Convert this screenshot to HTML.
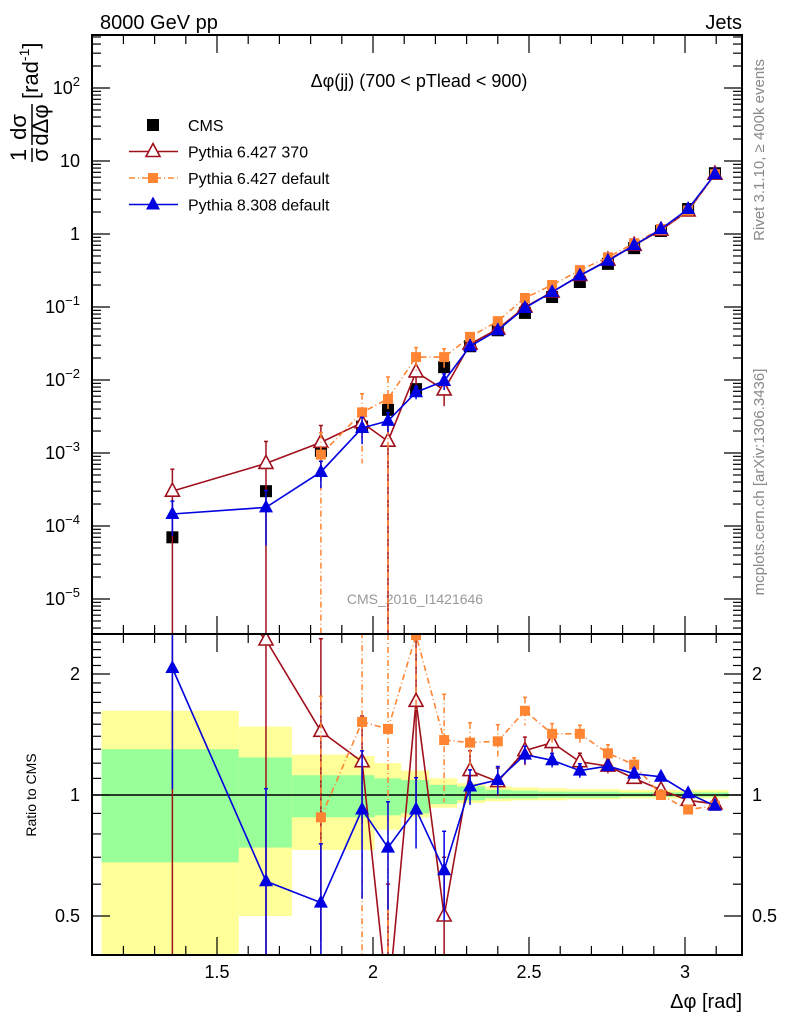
<!DOCTYPE html>
<html><head><meta charset="utf-8"><style>
html,body{margin:0;background:#fff;width:786px;height:1024px;overflow:hidden;}
svg{display:block;font-family:"Liberation Sans",sans-serif;}
</style></head><body>
<svg id="c" width="786" height="1024" viewBox="0 0 786 1024">
<text x="100" y="29" font-size="20">8000 GeV pp</text>
<text x="742" y="29" font-size="20" text-anchor="end">Jets</text>
<text x="419" y="87" font-size="18" text-anchor="middle">Δφ(jj) (700 &lt; pTlead &lt;  900)</text>
<text x="415" y="604" font-size="14" fill="#999" text-anchor="middle">CMS_2016_I1421646</text>
<text transform="translate(764,150) rotate(-90)" font-size="15" fill="#888" text-anchor="middle">Rivet 3.1.10, ≥ 400k events</text>
<text transform="translate(764,482) rotate(-90)" font-size="15" fill="#888" text-anchor="middle">mcplots.cern.ch [arXiv:1306.3436]</text>
<g transform="translate(33,150) rotate(-90)">
<text x="-5" y="-7" font-size="22" text-anchor="middle">1</text>
<text x="-5" y="15" font-size="22" text-anchor="middle">σ</text>
<line x1="-12" y1="-1" x2="2" y2="-1" stroke="#000" stroke-width="1.5"/>
<text x="23" y="-7" font-size="22" text-anchor="middle">dσ</text>
<text x="25" y="15" font-size="22" text-anchor="middle">dΔφ</text>
<line x1="5" y1="-1" x2="46" y2="-1" stroke="#000" stroke-width="1.5"/>
<text x="51" y="5" font-size="22">[rad<tspan font-size="14" dy="-9">-1</tspan><tspan dy="9">]</tspan></text>
</g>
<text transform="translate(36,795) rotate(-90)" font-size="14" text-anchor="middle">Ratio to CMS</text>
<text x="742" y="1008" font-size="20" text-anchor="end">Δφ [rad]</text>
<g id="bands"></g><g id="marks"></g><g id="axes"></g><g id="legend"></g>
</svg>
<script>
const xs=[1.357,1.657,1.833,1.965,2.048,2.138,2.228,2.311,2.40,2.487,2.574,2.663,2.753,2.837,2.923,3.01,3.096];
const cms=[7e-5,3e-4,1.07e-3,2.3e-3,3.9e-3,7.5e-3,0.015,0.029,0.048,0.083,0.137,0.22,0.39,0.64,1.1,2.2,6.8];
const py6370=[3e-4,7.2e-4,1.4e-3,2.6e-3,1.45e-3,0.0129,7.3e-3,0.031,0.05,0.1,0.16,0.27,0.44,0.7,1.13,2.07,6.6];
const py6def=[null,null,9.5e-4,3.6e-3,5.5e-3,0.0206,0.0206,0.039,0.064,0.133,0.2,0.32,0.48,0.75,1.17,2.1,6.6];
const py8=[1.46e-4,1.8e-4,5.5e-4,2.2e-3,2.75e-3,6.8e-3,9.7e-3,0.029,0.048,0.097,0.16,0.27,0.43,0.7,1.17,2.2,6.6];
const r6370=[4.3,2.43,1.44,1.21,0.3,1.71,0.5,1.15,1.08,1.29,1.35,1.21,1.18,1.1,1.03,0.97,0.95];
const r6def=[null,null,0.88,1.52,1.46,2.5,1.37,1.35,1.36,1.62,1.42,1.42,1.27,1.19,1.0,0.92,0.94];
const r8=[2.07,0.61,0.54,0.92,0.74,0.92,0.65,1.05,1.09,1.26,1.22,1.15,1.18,1.13,1.11,1.01,0.94];
const e6370=[1,1,0.7,0.3,1,0.45,0.4,0.12,0.08,0.08,0.06,0.05,0.04,0.03,0.03,0.02,0.02];
const e6def=[0,0,1,0.8,1,0.35,0.3,0.12,0.1,0.08,0.06,0.05,0.05,0.04,0.03,0.02,0.02];
const e8=[0.5,0.7,0.4,0.4,0.3,0.2,0.25,0.1,0.08,0.05,0.04,0.04,0.03,0.03,0.02,0.02,0.02];
const binEdges=[1.13,1.57,1.74,1.92,2.005,2.09,2.18,2.27,2.36,2.445,2.53,2.62,2.71,2.79,2.88,2.97,3.05,3.14];
const yelHi=[1.62,1.48,1.26,1.25,1.2,1.15,1.1,1.07,1.05,1.045,1.04,1.035,1.035,1.03,1.03,1.03,1.03];
const yelLo=[0.3,0.5,0.73,0.73,0.82,0.88,0.93,0.955,0.965,0.97,0.97,0.975,0.975,0.98,0.98,0.98,0.98];
const grHi=[1.3,1.24,1.12,1.12,1.1,1.09,1.06,1.05,1.03,1.025,1.02,1.02,1.02,1.015,1.015,1.015,1.015];
const grLo=[0.68,0.74,0.88,0.88,0.89,0.9,0.95,0.97,0.98,0.98,0.985,0.985,0.985,0.99,0.99,0.99,0.99];
const L=92,R=742,T=35,M=634,B=955;
const X=v=>373+(v-2)*312;
const Y=v=>234-73*Math.log10(v);
const YR=v=>795-121*Math.log2(v);
const NS="http://www.w3.org/2000/svg";
function mk(t,a,p){const e=document.createElementNS(NS,t);for(const k in a)e.setAttribute(k,a[k]);p.appendChild(e);return e;}
const bands=document.getElementById('bands'),marks=document.getElementById('marks'),axes=document.getElementById('axes'),leg=document.getElementById('legend');
const cl=(y,a,b)=>Math.max(a,Math.min(b,y));
for(let i=0;i<yelHi.length;i++){
 const x1=X(binEdges[i]),x2=X(binEdges[i+1]);
 let y1=cl(YR(yelHi[i]),M,B),y2=cl(YR(yelLo[i]),M,B);
 const yb=mk('rect',{x:x1,y:y1,width:x2-x1,height:y2-y1,fill:'#ffff99'},bands);
 
 
 y1=cl(YR(grHi[i]),M,B);y2=cl(YR(grLo[i]),M,B);
 const gb=mk('rect',{x:x1,y:y1,width:x2-x1,height:y2-y1,fill:'#99ff99'},bands);
 
 
}
const ref=mk('line',{x1:L,x2:R,y1:YR(1),y2:YR(1),stroke:'#000','stroke-width':1.5},bands);


function marker(type,x,y,col,g){
 if(type==='sq')mk('rect',{x:x-6,y:y-6,width:12,height:12,fill:col},g);
 else if(type==='osq')mk('rect',{x:x-5,y:y-5,width:10,height:10,fill:col},g);
 else if(type==='tri')mk('polygon',{points:`${x},${y-8} ${x-7},${y+5} ${x+7},${y+5}`,fill:col},g);
 else if(type==='otri')mk('polygon',{points:`${x},${y-8} ${x-7},${y+5} ${x+7},${y+5}`,fill:'#fff',stroke:col,'stroke-width':1.6},g);
}
function series(name,vals,errs,Yf,top,bot,col,dash,type,noLine){
 const g=mk('g',{},marks);
 
 
 const cp='M'+L+','+top+'H'+R+'V'+bot+'H'+L+'Z';
 const clipId='cp'+name;mk('path',{d:cp},mk('clipPath',{id:clipId},g));
 const gg=mk('g',{'clip-path':`url(#${clipId})`},g);
 let d='';
 vals.forEach((v,i)=>{if(v==null)return;d+=(d?'L':'M')+X(xs[i])+','+Yf(v);});
 const a={d:d,fill:'none',stroke:col,'stroke-width':1.6};if(dash)a['stroke-dasharray']=dash;
 if(!noLine)mk('path',a,gg);
 vals.forEach((v,i)=>{if(v==null)return;const e=errs[i];
  const hi=Yf(v*(1+e)),lo=e>=1?bot+5:Yf(v*(1-e));const x=X(xs[i]);
  const la={x1:x,x2:x,y1:hi,y2:lo,stroke:col,'stroke-width':1.5};if(dash)la['stroke-dasharray']=dash;
  mk('line',la,gg);mk('line',{x1:x-2,x2:x+2,y1:hi,y2:hi,stroke:col,'stroke-width':1.5},gg);
  marker(type,x,Yf(v),col,gg);});
}
series('cms-data',cms,cms.map(()=>0.03),Y,T,M,'#000',null,'sq',true);
series('pythia6-370-upper',py6370,e6370,Y,T,M,'#a0101c',null,'otri');
series('pythia6-default-upper',py6def,e6def,Y,T,M,'#ff8533','6,3,1,3','osq');
series('pythia8-default-upper',py8,e8,Y,T,M,'#0000e0',null,'tri');
series('pythia6-370-ratio',r6370,e6370,YR,M,B,'#a0101c',null,'otri');
series('pythia6-default-ratio',r6def,e6def,YR,M,B,'#ff8533','6,3,1,3','osq');
series('pythia8-default-ratio',r8,e8,YR,M,B,'#0000e0',null,'tri');
[[T,M],[M,B]].forEach(([t,b],k)=>{const f=mk('rect',{x:L,y:t,width:R-L,height:b-t,fill:'none',stroke:'#000','stroke-width':2},axes);
 
 });
function tk(x1,y1,x2,y2){mk('line',{x1,y1,x2,y2,stroke:'#000','stroke-width':1.2},axes);}
for(let i=11;i<=31;i++){const v=i/10,x=X(v);if(x<L||x>R)continue;const maj=i%5==0;const l=maj?18:9;
 [T,M].forEach(y=>tk(x,y,x,y+l));[M,B].forEach(y=>tk(x,y,x,y-l));}
const xTickLabels=['1.5','2','2.5','3'];
xTickLabels.forEach(s=>{const t=mk('text',{x:X(+s),y:978,'font-size':18,'text-anchor':'middle'},axes);t.textContent=s;
 
 });
for(let d=-6;d<=2;d++)for(let m=1;m<10;m++){const v=m*Math.pow(10,d),y=Y(v);if(y<T||y>M)continue;const l=m==1?18:9;tk(L,y,L+l,y);tk(R,y,R-l,y);}
const yExp=[2,1,0,-1,-2,-3,-4,-5];
yExp.forEach(e=>{const y=Y(Math.pow(10,e))+6;const t=mk('text',{x:80,y:y,'font-size':18,'text-anchor':'end'},axes);
 if(e==1)t.textContent='10';else if(e==0)t.textContent='1';else{t.textContent='10';const s=mk('tspan',{dy:-8,'font-size':13},t);s.textContent=String(e).replace('-','−');}
 
 });
for(let v=0.3;v<=2.5;v+=0.1){const y=YR(v);if(y<M||y>B)continue;const maj=Math.abs(v-0.5)<1e-6||Math.abs(v-1)<1e-6||Math.abs(v-2)<1e-6;const l=maj?18:9;tk(L,y,L+l,y);tk(R,y,R-l,y);}
const rLabels=['2','1','0.5'];
rLabels.forEach(s=>{const y=YR(+s)+6;[[80,'end'],[752,'start']].forEach(([x,a])=>{const t=mk('text',{x:x,y:y,'font-size':18,'text-anchor':a},axes);t.textContent=s;
 
 });});
const legNames=['CMS','Pythia 6.427 370','Pythia 6.427 default','Pythia 8.308 default'];
const legCols=['#000','#a0101c','#ff8533','#0000e0'];const legT=['sq','otri','osq','tri'];
legNames.forEach((n,i)=>{const y=125+i*26.5;const g=mk('g',{},leg);
 
 
 if(i>0){const a={x1:129,x2:178,y1:y,y2:y,stroke:legCols[i],'stroke-width':1.6};if(i==2)a['stroke-dasharray']='6,3,1,3';mk('line',a,g);}
 marker(legT[i],153,y,legCols[i],g);
 const t=mk('text',{x:188,y:y+6,'font-size':16},g);t.textContent=n;});
</script>
</body></html>
